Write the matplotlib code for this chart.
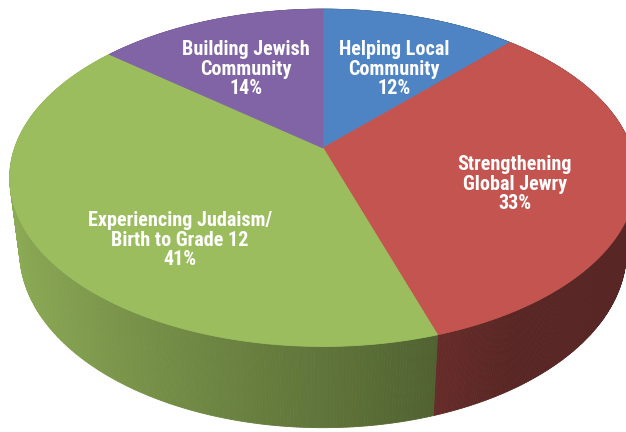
import numpy as np
import matplotlib
matplotlib.use("Agg")
import matplotlib.pyplot as plt
from matplotlib.patches import Polygon
from matplotlib.collections import PolyCollection
from matplotlib.colors import to_rgb

# data, clockwise from 12 o'clock
categories = [
    "Helping Local\nCommunity",
    "Strengthening\nGlobal Jewry",
    "Experiencing Judaism/\nBirth to Grade 12",
    "Building Jewish\nCommunity",
]
shares = [12, 33, 41, 14]
colors = ["#4F84C4", "#C4544F", "#9BBD5E", "#8064A6"]

# label centres in picture pixels (x from left, y from top)
label_pos = [(394, 69), (515, 184), (180, 240), (246, 69)]

# camera for the 3d look
ELEV = np.radians(32)
DIST = 4.8
FOCAL = 1480
DEPTH = 0.29
CX, CY = 323, 148  # pie centre in the picture


def project(t, z=0.0):
    x = np.cos(t)
    y = np.sin(t)
    v = y * np.sin(ELEV) + z * np.cos(ELEV)
    d = y * np.cos(ELEV) - z * np.sin(ELEV)
    k = FOCAL / (DIST + d)
    return x * k, v * k, d


def main():
    fig = plt.figure(figsize=(6.26, 4.32), dpi=100)
    ax = fig.add_axes([0, 0, 1, 1])
    ax.set_xlim(-CX, 626 - CX)
    ax.set_ylim(CY - 432, CY)
    ax.axis("off")

    bounds = np.radians(90 - 360 * np.concatenate([[0], np.cumsum(shares)]) / sum(shares))

    # side walls, painted back to front
    quads, quad_cols, quad_depth = [], [], []
    for i, col in enumerate(colors):
        base = np.array(to_rgb(col))
        ts = np.linspace(bounds[i], bounds[i + 1], 300)
        xt, yt, dt = project(ts)
        xb, yb, db = project(ts, -DEPTH)
        for j in range(len(ts) - 1):
            tm = 0.5 * (ts[j] + ts[j + 1])
            shade = np.clip(0.614 - 0.3056 * np.cos(tm), 0.45, 0.95)
            quads.append([(xt[j], yt[j]), (xt[j + 1], yt[j + 1]),
                          (xb[j + 1], yb[j + 1]), (xb[j], yb[j])])
            quad_cols.append(base * shade)
            quad_depth.append(dt[j] + db[j])
    order = np.argsort(quad_depth)[::-1]
    pc = PolyCollection([quads[k] for k in order],
                        facecolors=[quad_cols[k] for k in order],
                        edgecolors=[quad_cols[k] for k in order],
                        linewidths=0.6)
    ax.add_collection(pc)

    # top face
    for i, col in enumerate(colors):
        ts = np.linspace(bounds[i], bounds[i + 1], 300)
        xt, yt, _ = project(ts)
        pts = [(0, 0)] + list(zip(xt, yt))
        ax.add_patch(Polygon(pts, closed=True, facecolor=col,
                             edgecolor=col, linewidth=0.6))

    for name, share, (px, py) in zip(categories, shares, label_pos):
        ax.text(px - CX, CY - py, f"{name}\n{share}%", ha="center", va="center",
                color="white", fontsize=14.5, fontweight="bold",
                family=["Roboto Condensed", "DejaVu Sans"],
                linespacing=1.02)

    fig.savefig("out.png", dpi=100)


if __name__ == "__main__":
    main()
